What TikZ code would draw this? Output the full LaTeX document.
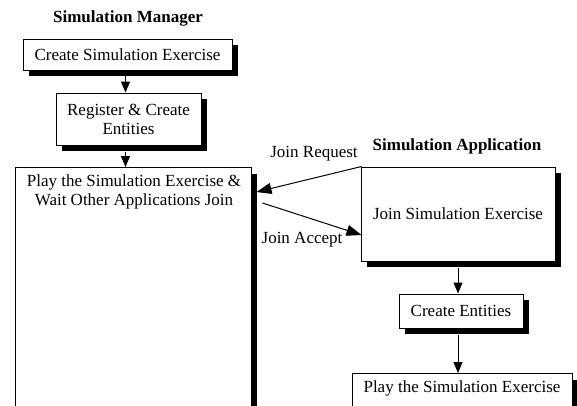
\documentclass[tikz,border=0pt]{standalone}
\usepackage{fontspec}
\setmainfont{Liberation Serif}
\usetikzlibrary{shadows,arrows.meta}
\begin{document}
\begin{tikzpicture}[x=1pt,y=-1pt,
  every node/.style={font=\fontsize{17}{19}\selectfont, inner sep=0pt},
  box/.style={draw=black, line width=1pt, fill=white,
    general shadow={fill=black, shadow xshift=6pt, shadow yshift=-6pt}},
  ttl/.style={font=\fontsize{17}{19}\selectfont\bfseries},
  varr/.style={line width=1pt, -{Triangle[length=11pt,width=9pt]}},
  darr/.style={line width=1pt, -{Triangle[length=15pt,width=11pt]}}
]
\useasboundingbox[fill=white] (0,0) rectangle (577,405);
\clip (0,0) rectangle (577,405);
% titles
\node[ttl] (tm) at (128,18) {Simulation Manager};
\node[ttl] (ta) at (457,146) {Simulation Application};
% manager boxes
\node[box, minimum width=209, minimum height=31] (b1) at (127.5,54.5) {Create Simulation Exercise};
\node[box, minimum width=145, minimum height=52, align=center] (b2) at (128.5,119) {Register \& Create\\Entities};
\node[box, minimum width=236, minimum height=270, anchor=north] (b3) at (133,167) {};
\node[align=center] (b3t) at (134,192) {Play the Simulation Exercise \&\\Wait Other Applications Join};
% application boxes
\node[box, minimum width=194, minimum height=94] (b4) at (458,214) {Join Simulation Exercise};
\node[box, minimum width=124, minimum height=34] (b5) at (461,311) {Create Entities};
\node[box, minimum width=220, minimum height=45, anchor=north] (b6) at (462,373) {};
\node (b6t) at (462,388) {Play the Simulation Exercise};
% vertical arrows
\draw[varr] ([xshift=-2pt,yshift=-5pt]b1.south) -- ([xshift=-2pt]b1.south |- b2.north);
\draw[varr] ([xshift=-3pt,yshift=-6pt]b2.south) -- ([xshift=-3pt]b2.south |- b3.north);
\draw[varr] ([yshift=-6pt]b4.south) -- (b4.south |- b5.north);
\draw[varr] ([yshift=-6pt]b4.south |- b5.south) -- (b4.south |- b6.north);
% join arrows
\coordinate (rqs) at ([shift={(1pt,0pt)}]b4.north west);
\coordinate (rqe) at ([shift={(5pt,-25pt)}]b3.north east);
\draw[darr] (rqs) -- (rqe);
\coordinate (acs) at ([shift={(11pt,-36pt)}]b3.north east);
\coordinate (ace) at ([shift={(1pt,-21pt)}]b4.west);
\draw[darr] (acs) -- (ace);
\node (lrq) at (314,154) {Join Request};
\node (lac) at (302,240) {Join Accept};
\end{tikzpicture}
\end{document}
